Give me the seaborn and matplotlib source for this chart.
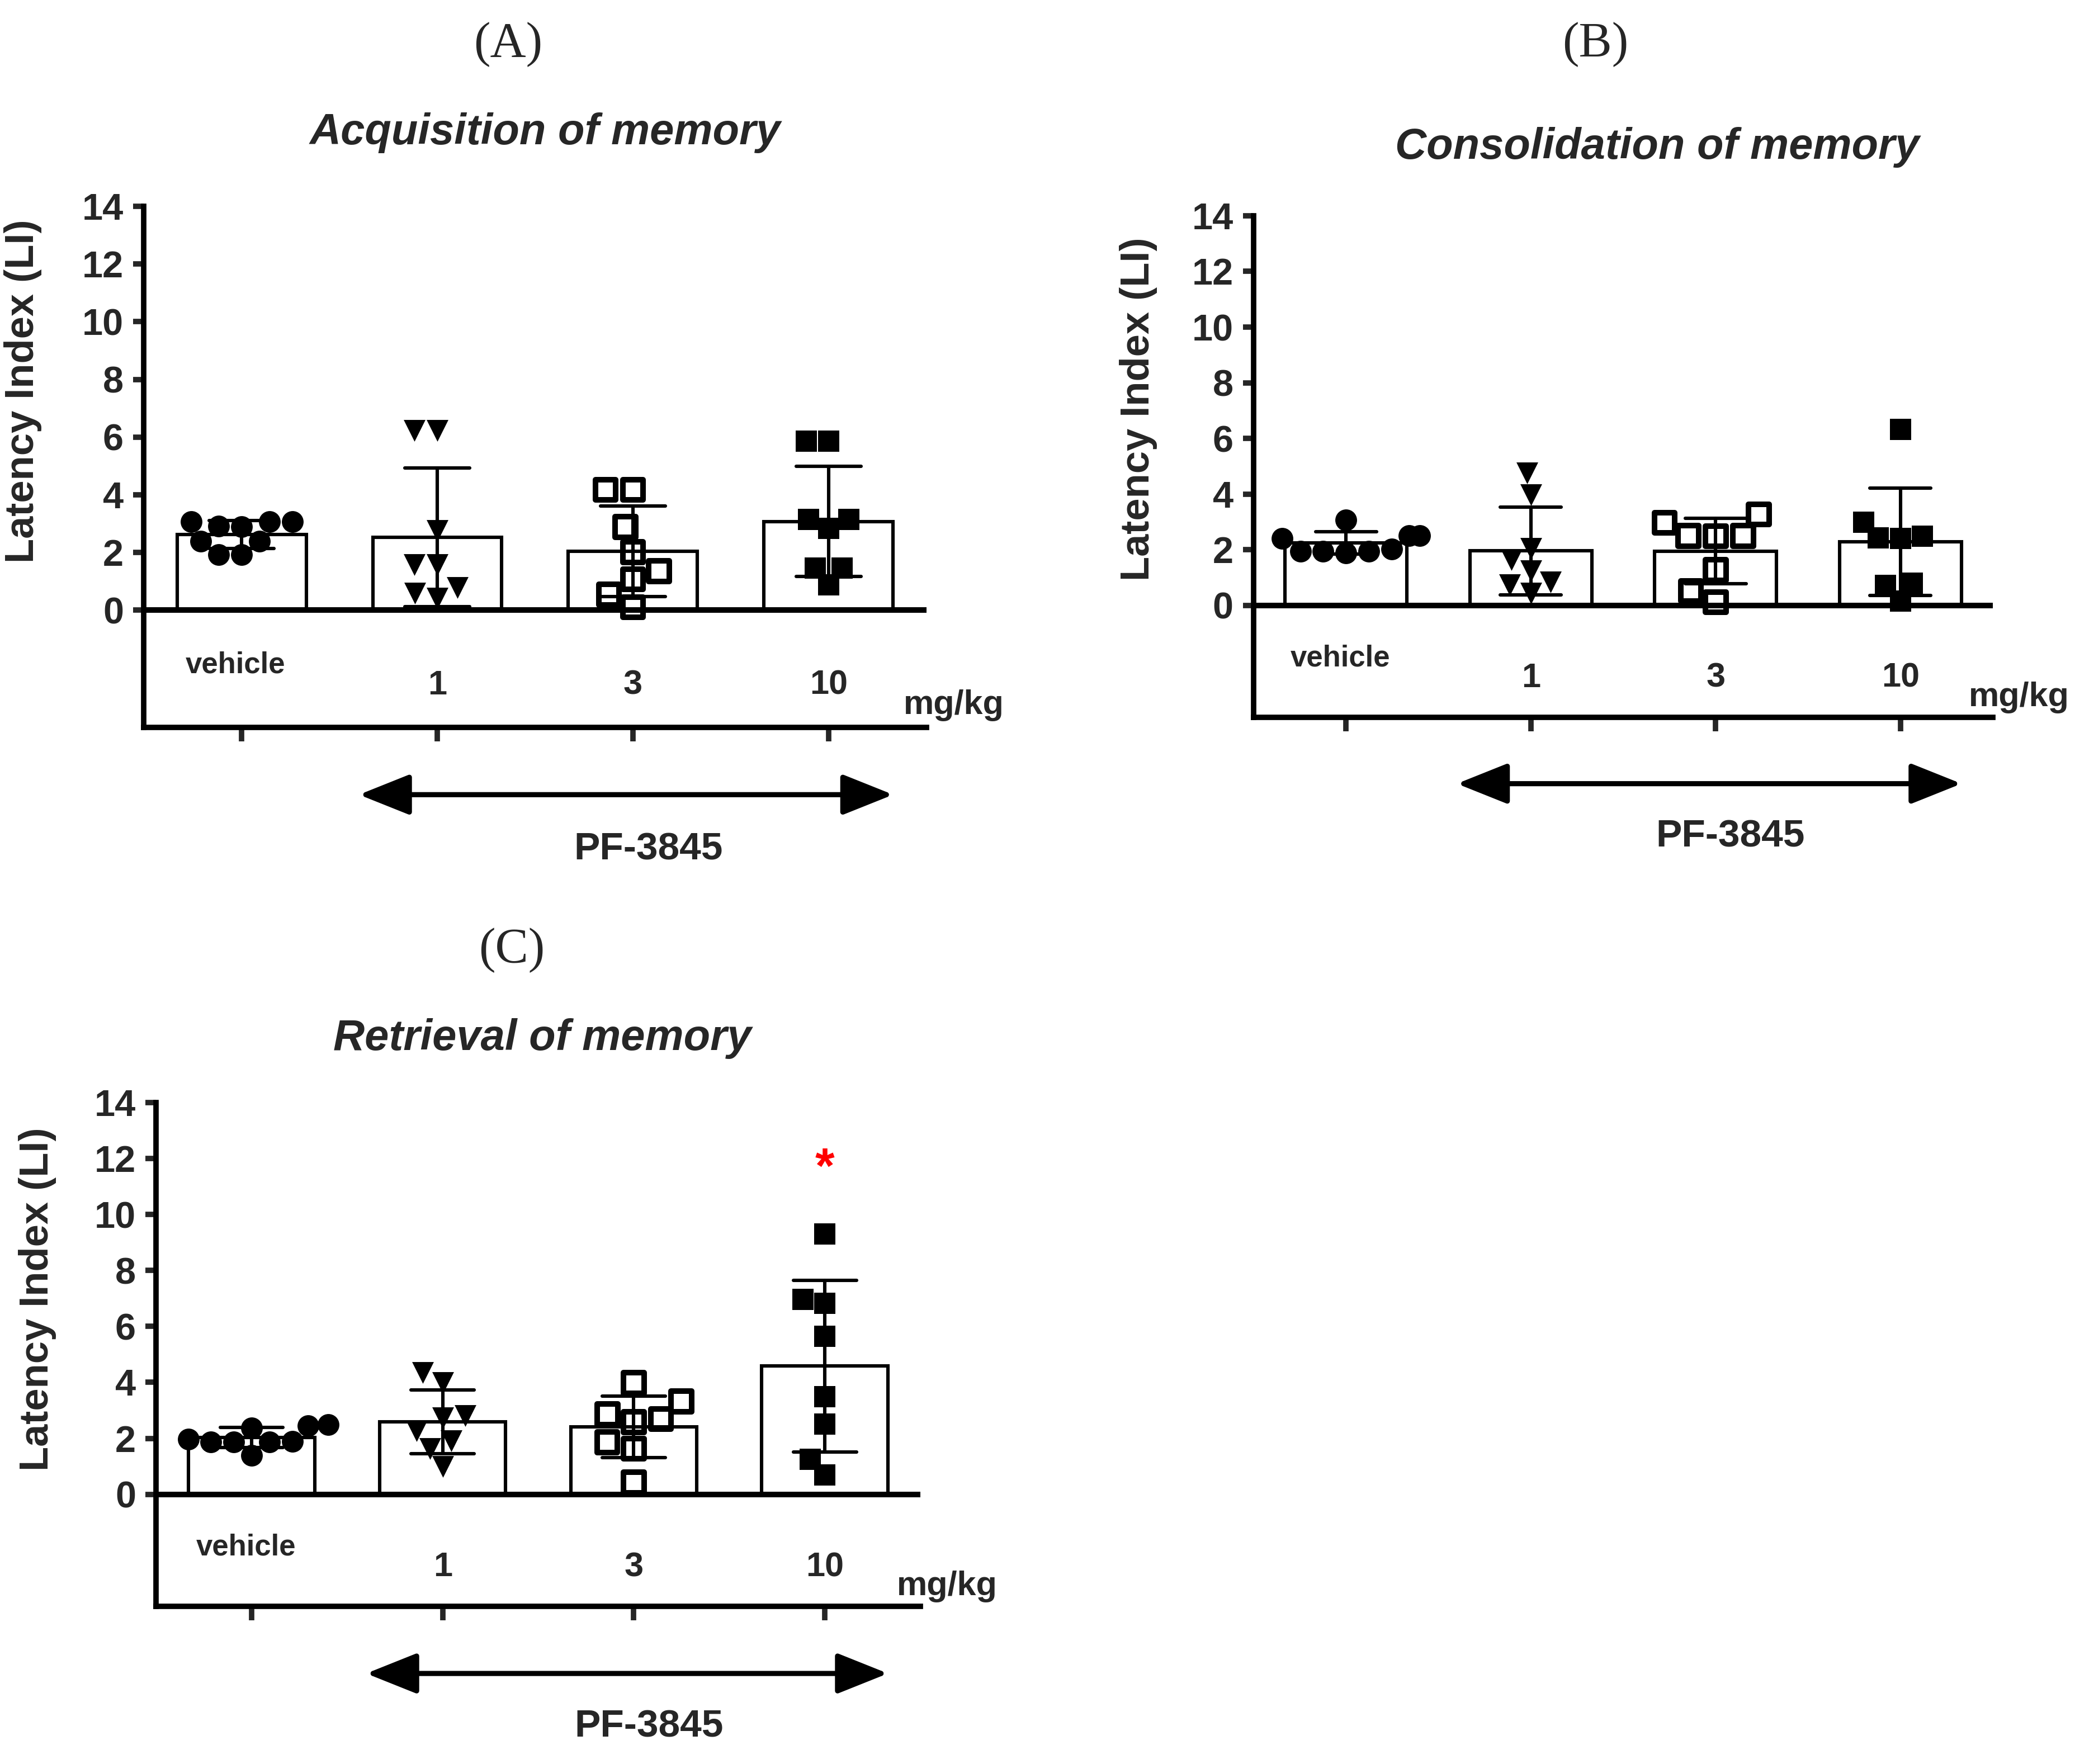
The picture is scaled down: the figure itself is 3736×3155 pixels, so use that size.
import numpy as np
import pandas as pd
import matplotlib.pyplot as plt
from matplotlib.patches import ArrowStyle
import seaborn as sns

# groups on the x axis
DOSES = ["vehicle", "1", "3", "10"]

# (A) Acquisition of memory - Latency Index per animal
acq_vehicle = [3.07, 2.89, 3.06, 3.06, 2.91, 2.38, 2.39, 1.92, 1.92]
acq_1 = [6.23, 6.23, 2.76, 1.57, 1.57, 0.78, 0.42, 0.59]
acq_3 = [4.17, 4.17, 2.88, 2.01, 1.07, 0.10, 1.35, 0.54]
acq_10 = [5.86, 5.86, 3.14, 2.83, 3.14, 1.45, 1.45, 0.87]

# (B) Consolidation of memory
con_vehicle = [2.51, 2.51, 2.41, 3.07, 1.94, 2.02, 1.89, 1.94, 1.94]
con_1 = [4.75, 3.98, 2.04, 1.24, 0.45, 0.84, 1.65, 0.74]
con_3 = [2.97, 3.27, 2.49, 2.50, 2.50, 1.28, 0.52, 0.12]
con_10 = [6.32, 2.99, 2.41, 2.49, 2.42, 0.81, 0.72, 0.17]

# (C) Retrieval of memory
ret_vehicle = [2.38, 1.88, 1.98, 1.88, 1.88, 2.46, 1.90, 2.50, 1.40]
ret_1 = [4.34, 3.98, 2.82, 2.74, 2.27, 1.91, 1.64, 1.00]
ret_3 = [3.98, 2.86, 3.32, 2.58, 1.63, 2.69, 1.86, 0.43]
ret_10 = [9.30, 6.96, 6.82, 5.64, 3.48, 2.52, 1.25, 0.69]

# significance mark (panel C only)
SIG_GROUP = "10"
SIG_LABEL = "*"

MARKER_STYLES = {
    "vehicle": dict(marker="o", size=14.0, linewidth=0, color="black"),
    "1":       dict(marker="v", size=14.0, linewidth=0, color="black"),
    "3":       dict(marker="s", size=13.2, linewidth=3.6, color="black", edgecolor="black"),
    "10":      dict(marker="s", size=13.6, linewidth=0, color="black"),
}
HOLLOW = {"3"}

PANELS = [
    dict(letter="(A)", title="Acquisition of memory",
         groups=[acq_vehicle, acq_1, acq_3, acq_10],
         rect=[0.0688, 0.5876, 0.3747, 0.2954], ybot=-4.07, ylab_y=0.645,
         letter_xy=(909, 80), title_xy=(975, 237), sig=False),
    dict(letter="(B)", title="Consolidation of memory",
         groups=[con_vehicle, con_1, con_3, con_10],
         rect=[0.6001, 0.5933, 0.3539, 0.2844], ybot=-4.02, ylab_y=0.615,
         letter_xy=(2853, 80), title_xy=(2964, 263), sig=False),
    dict(letter="(C)", title="Retrieval of memory",
         groups=[ret_vehicle, ret_1, ret_3, ret_10],
         rect=[0.0747, 0.0894, 0.3659, 0.2856], ybot=-4.00, ylab_y=0.61,
         letter_xy=(915, 1700), title_xy=(970, 1858), sig=True),
]

W, H = 3736, 3155
AX_LW = 3.5

sns.set_style("ticks")
plt.rcParams["font.family"] = ["Liberation Sans", "DejaVu Sans"]
plt.rcParams["font.weight"] = "bold"


def draw_panel(fig, p):
    ax = fig.add_axes(p["rect"])
    df = pd.DataFrame({
        "dose": np.repeat(DOSES, [len(g) for g in p["groups"]]),
        "li": np.concatenate(p["groups"]),
    })

    sns.barplot(data=df, x="dose", y="li", order=DOSES, errorbar="sd",
                capsize=0.33, width=0.66, color="white", saturation=1,
                edgecolor="black", linewidth=2.2,
                err_kws={"color": "black", "linewidth": 2.2}, ax=ax)
    # error bars on top of the (hollow) points, like the original
    for ln in ax.lines:
        ln.set_zorder(3.5)

    for dose in DOSES:
        sub = df[df["dose"] == dose]
        n0 = len(ax.collections)
        sns.swarmplot(data=sub, x="dose", y="li", order=DOSES, ax=ax,
                      warn_thresh=1.0, **MARKER_STYLES[dose])
        for coll in ax.collections[n0:]:
            coll.set_zorder(3)
            if dose in HOLLOW:
                coll.set_facecolor("none")
                coll.set_edgecolor("black")

    ax.axhline(0, color="black", lw=3.6, zorder=4)

    ax.set_xlim(-0.5, 3.5)
    ax.set_ylim(p["ybot"], 14)
    ax.set_yticks(np.arange(0, 15, 2))
    ax.set_xticks(range(len(DOSES)))
    ax.set_xticklabels([])
    ax.tick_params(axis="y", length=7, width=AX_LW, pad=6, labelsize=24)
    ax.tick_params(axis="x", length=9, width=AX_LW, direction="out")
    for lab in ax.get_yticklabels():
        lab.set_fontweight("bold")
    sns.despine(ax=ax)
    for s in ("left", "bottom"):
        ax.spines[s].set_linewidth(AX_LW)
        ax.spines[s].set_color("black")

    ax.set_xlabel("")
    ax.set_ylabel("Latency Index (LI)", fontsize=26, fontweight="bold")
    ax.yaxis.set_label_coords(-0.13, p["ylab_y"])

    # group labels inside the lower band
    ax.text(-0.03, -1.9, "vehicle", ha="center", va="center", fontsize=19,
            fontweight="bold")
    for i, d in enumerate(DOSES[1:], start=1):
        ax.text(i, -2.62, d, ha="center", va="center", fontsize=22,
                fontweight="bold")
    ax.text(3.64, -3.3, "mg/kg", ha="center", va="center", fontsize=22,
            fontweight="bold", clip_on=False)

    # PF-3845 double arrow
    ax.annotate("", xy=(3.33, -6.4), xytext=(0.60, -6.4),
                arrowprops=dict(arrowstyle=ArrowStyle("<|-|>", head_length=0.4,
                                                      head_width=0.16),
                                mutation_scale=70, lw=3.3, color="black",
                                shrinkA=0, shrinkB=0),
                annotation_clip=False)
    ax.text(2.08, -8.3, "PF-3845", ha="center", va="center", fontsize=25,
            fontweight="bold", clip_on=False)

    if p["sig"]:
        ax.text(DOSES.index(SIG_GROUP), 11.15, SIG_LABEL, ha="center",
                va="baseline", fontsize=32, fontweight="bold", color="red")

    fig.text(p["letter_xy"][0] / W, 1 - p["letter_xy"][1] / H, p["letter"],
             ha="center", va="center", fontsize=32, fontweight="normal",
             family=["Liberation Serif", "DejaVu Serif"])
    fig.text(p["title_xy"][0] / W, 1 - p["title_xy"][1] / H, p["title"],
             ha="center", va="center", fontsize=28, fontweight="bold",
             style="italic")
    return ax


fig = plt.figure(figsize=(W / 200, H / 200), dpi=200)
for p in PANELS:
    draw_panel(fig, p)

fig.savefig("out.png", dpi=200)
